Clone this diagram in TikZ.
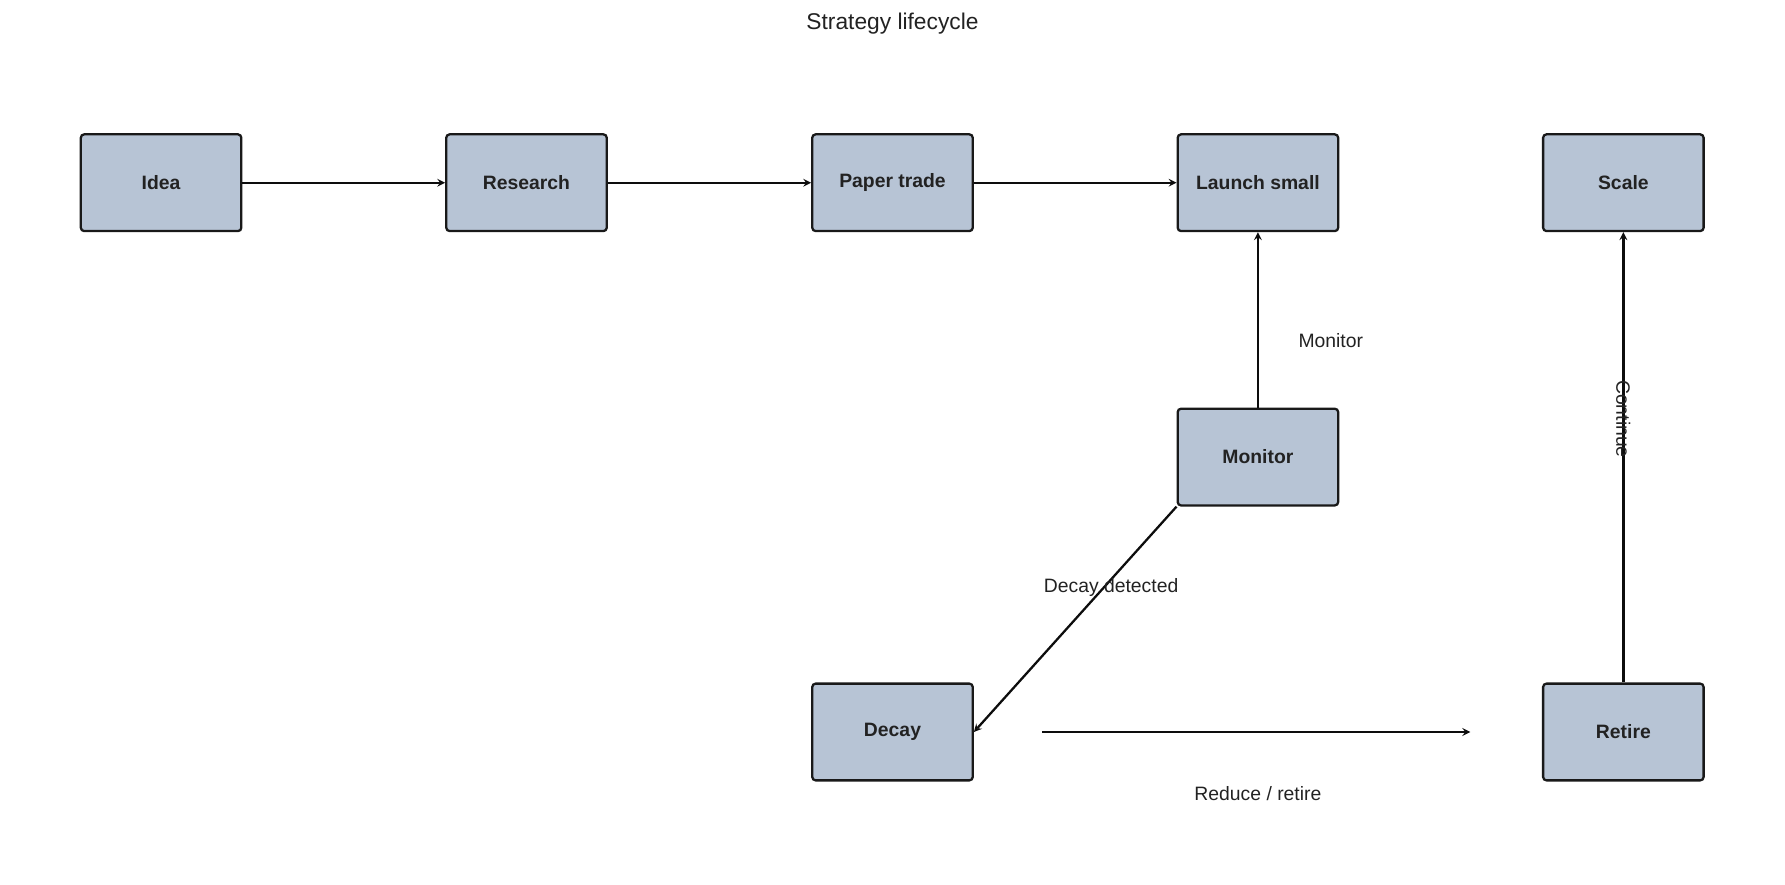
\documentclass[tikz,border=0pt]{standalone}
\usepackage{fontspec}
\setmainfont{Liberation Sans}
\definecolor{boxfill}{HTML}{B7C4D5}
\definecolor{txt}{HTML}{222222}
\begin{document}
\begin{tikzpicture}[x=1pt,y=-1pt,
  box/.style={draw=black!90, fill=boxfill, line width=2pt, rounded corners=3pt,
    minimum width=141pt, minimum height=85pt, font=\fontsize{17}{20}\selectfont\bfseries, text=txt},
  conn/.style={draw=black!95, line width=2pt, -stealth},
  lbl/.style={font=\fontsize{17}{20}\selectfont, text=txt}]
\useasboundingbox (0,0) rectangle (1568,777);
\node[font=\fontsize{20}{24}\selectfont, text=txt] (title) at (784,21) {Strategy lifecycle};
\node[box] (idea) at (141.5,160.5) {Idea};
\node[box] (res) at (462.5,160.5) {Research};
\node[box] (paper) at (784,160.5) {Paper trade};
\node[box] (launch) at (1105,160.5) {Launch small};
\node[box] (scale) at (1426,160.5) {Scale};
\node[box] (mon) at (1105,401.5) {Monitor};
\node[box] (decay) at (784,643) {Decay};
\node[box] (retire) at (1426,643) {Retire};
\draw[conn] (idea) -- (res);
\draw[conn] (res) -- (paper);
\draw[conn] (paper) -- (launch);
\draw[conn] (mon) -- (launch);
\node[lbl] (lmon) at (1169,299) {Monitor};
\draw[conn] (mon.south west) -- (decay.east);
\node[lbl] (ldec) at (976,516) {Decay detected};
\draw[conn, shorten <=60pt, shorten >=63pt] (decay) -- (retire);
\node[lbl] (lred) at (1105,697) {Reduce / retire};
\draw[conn] (retire) -- (scale);
\node[lbl, rotate=-90] (lcont) at (1426,368) {Continue};
\end{tikzpicture}
\end{document}
